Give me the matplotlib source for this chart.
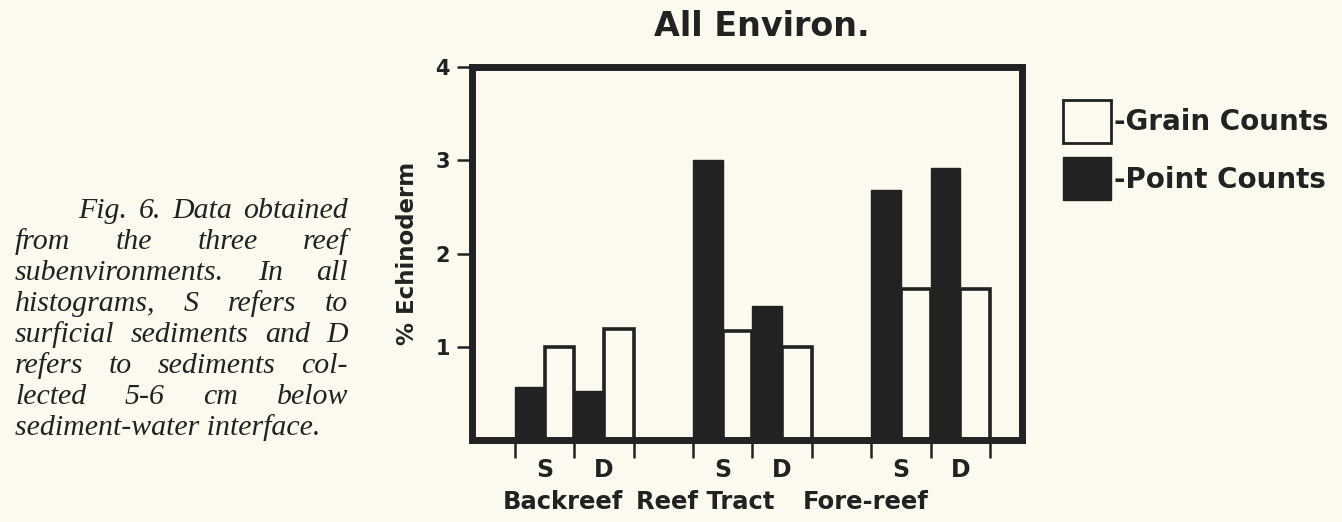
import numpy as np
import matplotlib.pyplot as plt
from matplotlib.patches import Patch
from matplotlib.transforms import blended_transform_factory

# data (% Echinoderm)
groups = ['Backreef', 'Reef Tract', 'Fore-reef']
samples = ['S', 'D']
point_counts = [0.57, 0.53, 3.00, 1.44, 2.68, 2.92]   # S, D per group
grain_counts = [1.00, 1.19, 1.17, 1.00, 1.62, 1.62]
y_ticks = [1, 2, 3, 4]
group_label_x = [1.6, 6.4, 11.8]   # labels sit a bit left of group centres

caption_lines = [
    "Fig. 6. Data obtained",
    "from the three reef",
    "subenvironments. In all",
    "histograms, S refers to",
    "surficial sediments and D",
    "refers to sediments col-",
    "lected 5-6 cm below",
    "sediment-water interface.",
]

paper = '#fcf9ee'
ink = '#222222'
W, H = 1342, 522

plt.rcParams['font.family'] = ['DejaVu Sans']

fig = plt.figure(figsize=(W / 100, H / 100), dpi=100, facecolor=paper)
ax = fig.add_axes([472 / W, 82 / H, 550 / W, 373 / H], facecolor=paper)

# bar layout: each group = point S, grain S, point D, grain D, then a gap of 2
group_start = np.arange(len(groups)) * 6
s_left = np.repeat(group_start, 2) + np.tile([0, 2], len(groups))
ax.bar(s_left, point_counts, width=1, align='edge', color=ink, edgecolor=ink, lw=1)
ax.bar(s_left + 1, grain_counts, width=1, align='edge', color=paper, edgecolor=ink, lw=2.6)

ax.set_xlim(-1.45, 17.08)
ax.set_ylim(0, 4)

for sp in ax.spines.values():
    sp.set_linewidth(5)
    sp.set_color(ink)
    sp.set_zorder(3)

# y axis
ax.set_yticks(y_ticks)
ax.set_yticklabels([str(t) for t in y_ticks], fontsize=15, fontweight='bold', color=ink)
ax.tick_params(axis='y', direction='out', length=11, width=1.8, color=ink, pad=5)
ax.set_ylabel('% Echinoderm', fontsize=16.5, fontweight='bold', color=ink, labelpad=12)

# x axis: S/D labels as major ticks (no mark), boundaries as minor ticks
sd_pos = np.concatenate([g + np.array([1, 3]) for g in group_start])
ax.set_xticks(sd_pos)
ax.set_xticklabels(samples * len(groups), fontsize=17, fontweight='bold', color=ink)
ax.tick_params(axis='x', which='major', length=0, pad=13)
bounds = np.concatenate([g + np.array([0, 2, 4]) for g in group_start])
ax.set_xticks(bounds, minor=True)
ax.tick_params(axis='x', which='minor', direction='out', length=13, width=1.8, color=ink)

trans = blended_transform_factory(ax.transData, fig.transFigure)
for gx, name in zip(group_label_x, groups):
    ax.text(gx, 1 - 502 / H, name, transform=trans, ha='center', va='center',
            fontsize=17.5, fontweight='bold', color=ink)

fig.text(762 / W, 1 - 27 / H, 'All Environ.', ha='center', va='center',
         fontsize=24, fontweight='bold', color=ink)

# legend
handles = [Patch(facecolor=paper, edgecolor=ink, lw=2),
           Patch(facecolor=ink, edgecolor=ink, lw=1)]
fig.legend(handles, ['-Grain Counts', '-Point Counts'], loc='upper left',
           bbox_to_anchor=(1063 / W, 1 - 100 / H), frameon=False,
           borderpad=0, borderaxespad=0, prop={'size': 20, 'weight': 'bold'},
           handlelength=1.73, handleheight=2.02, handletextpad=0.12,
           labelspacing=0.5, labelcolor=ink)

# justified italic caption on the left
cap_left, cap_right, cap_indent = 15, 348, 78
cap_base0, cap_step = 218, 31
cap_font = dict(family='Liberation Serif', style='italic', fontsize=21.5, color=ink,
                va='baseline', ha='left')
renderer = fig.canvas.get_renderer()
for k, line in enumerate(caption_lines):
    y = 1 - (cap_base0 + cap_step * k) / H
    x0 = cap_indent if k == 0 else cap_left
    if k == len(caption_lines) - 1:
        fig.text(x0 / W, y, line, **cap_font)
        continue
    words = line.split()
    texts = [fig.text(0, y, w, **cap_font) for w in words]
    widths = [t.get_window_extent(renderer).width for t in texts]
    gap = (cap_right - x0 - sum(widths)) / (len(words) - 1)
    x = x0
    for t, w in zip(texts, widths):
        t.set_x(x / W)
        x += w + gap

fig.savefig('out.png', dpi=100, facecolor=paper)
